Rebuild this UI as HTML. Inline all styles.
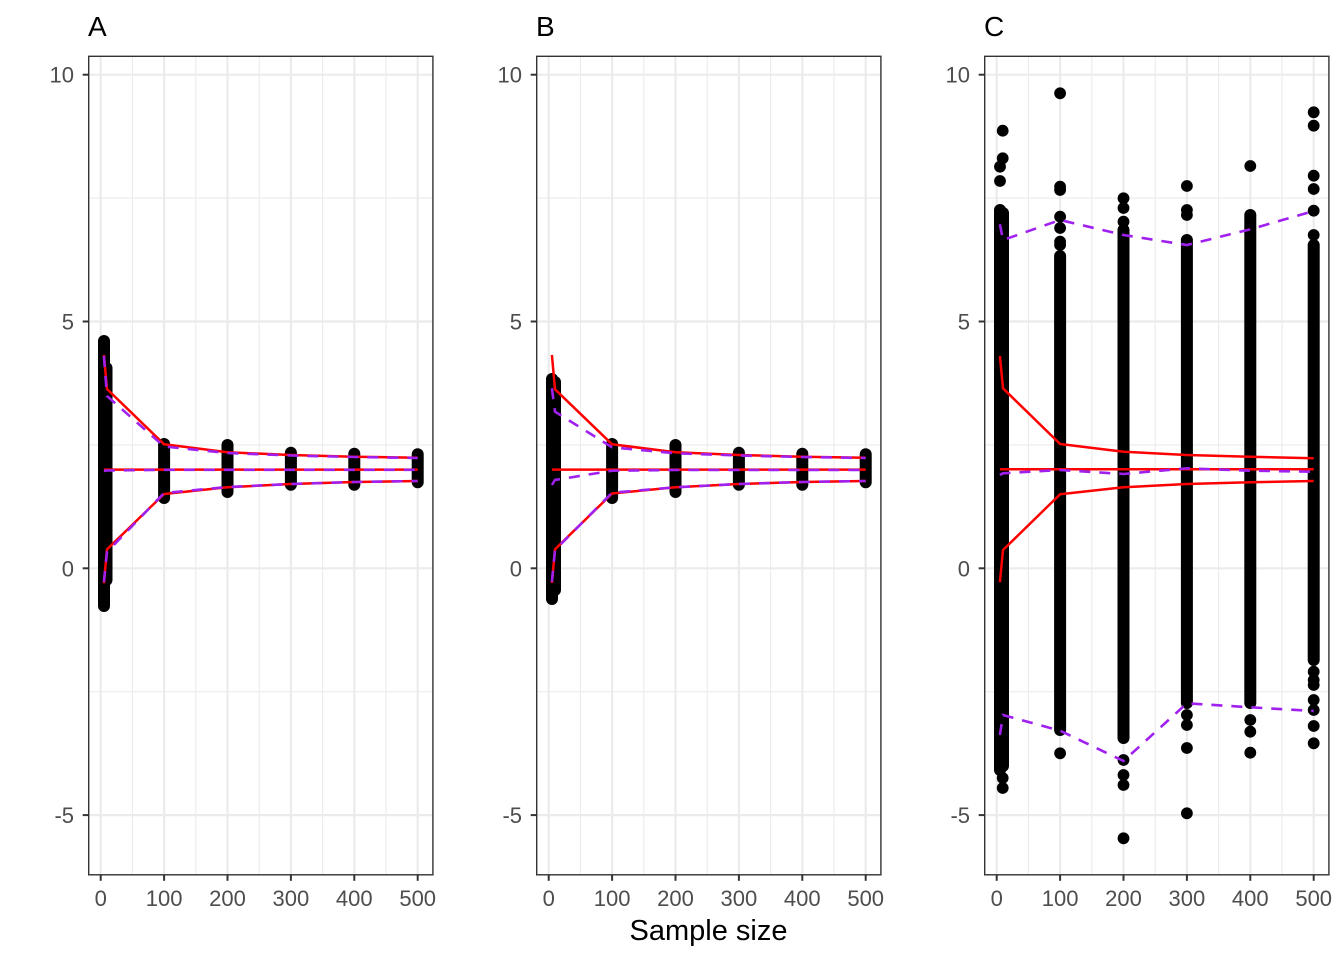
<!DOCTYPE html>
<html>
<head>
<meta charset="utf-8">
<style>
html,body{margin:0;padding:0;background:#fff;}
svg{display:block;}
text{font-family:"Liberation Sans",Arial,sans-serif;}
.tk{font-size:22px;fill:#4D4D4D;}
.ttl{font-size:28px;fill:#000;}
</style>
</head>
<body>
<svg width="1344" height="960" viewBox="0 0 1344 960" xmlns="http://www.w3.org/2000/svg">
<rect width="1344" height="960" fill="#fff"/>
<defs>
  <g id="grid">
    <g stroke="#EBEBEB" stroke-width="1.1">
      <line x1="0" x2="344.2" y1="141.8" y2="141.8"/>
      <line x1="0" x2="344.2" y1="388.6" y2="388.6"/>
      <line x1="0" x2="344.2" y1="635.4" y2="635.4"/>
      <line y1="0" y2="818.5" x1="43.7" x2="43.7"/>
      <line y1="0" y2="818.5" x1="107.1" x2="107.1"/>
      <line y1="0" y2="818.5" x1="170.5" x2="170.5"/>
      <line y1="0" y2="818.5" x1="233.9" x2="233.9"/>
      <line y1="0" y2="818.5" x1="297.3" x2="297.3"/>
    </g>
    <g stroke="#EBEBEB" stroke-width="2.2">
      <line x1="0" x2="344.2" y1="18.4" y2="18.4"/>
      <line x1="0" x2="344.2" y1="265.2" y2="265.2"/>
      <line x1="0" x2="344.2" y1="512" y2="512"/>
      <line x1="0" x2="344.2" y1="758.8" y2="758.8"/>
      <line y1="0" y2="818.5" x1="12" x2="12"/>
      <line y1="0" y2="818.5" x1="75.4" x2="75.4"/>
      <line y1="0" y2="818.5" x1="138.8" x2="138.8"/>
      <line y1="0" y2="818.5" x1="202.2" x2="202.2"/>
      <line y1="0" y2="818.5" x1="265.6" x2="265.6"/>
      <line y1="0" y2="818.5" x1="329" x2="329"/>
    </g>
  </g>
  <g id="axes">
    <rect x="0" y="0" width="344.2" height="818.5" fill="none" stroke="#333333" stroke-width="1.4"/>
    <g stroke="#333333" stroke-width="2">
      <line x1="-6" x2="0" y1="18.4" y2="18.4"/>
      <line x1="-6" x2="0" y1="265.2" y2="265.2"/>
      <line x1="-6" x2="0" y1="512" y2="512"/>
      <line x1="-6" x2="0" y1="758.8" y2="758.8"/>
      <line y1="818.5" y2="824.5" x1="12" x2="12"/>
      <line y1="818.5" y2="824.5" x1="75.4" x2="75.4"/>
      <line y1="818.5" y2="824.5" x1="138.8" x2="138.8"/>
      <line y1="818.5" y2="824.5" x1="202.2" x2="202.2"/>
      <line y1="818.5" y2="824.5" x1="265.6" x2="265.6"/>
      <line y1="818.5" y2="824.5" x1="329" x2="329"/>
    </g>
    <g class="tk" text-anchor="end">
      <text x="-14.7" y="26.4">10</text>
      <text x="-14.7" y="273.2">5</text>
      <text x="-14.7" y="520">0</text>
      <text x="-14.7" y="766.8">-5</text>
    </g>
    <g class="tk" text-anchor="middle">
      <text x="12" y="849.7">0</text>
      <text x="75.4" y="849.7">100</text>
      <text x="138.8" y="849.7">200</text>
      <text x="202.2" y="849.7">300</text>
      <text x="265.6" y="849.7">400</text>
      <text x="329" y="849.7">500</text>
    </g>
  </g>
</defs>

<g transform="translate(88.7,56.3)"><use href="#grid"/></g>
<g transform="translate(536.7,56.3)"><use href="#grid"/></g>
<g transform="translate(984.7,56.3)"><use href="#grid"/></g>

<!-- Panel A -->
<g stroke="#000" stroke-width="12" stroke-linecap="round" fill="none">
  <line x1="104" y1="341" x2="104" y2="606"/>
  <line x1="106.5" y1="368" x2="106.5" y2="580"/>
  <line x1="164.1" y1="444" x2="164.1" y2="498"/>
  <line x1="227.5" y1="445" x2="227.5" y2="492"/>
  <line x1="290.9" y1="452.7" x2="290.9" y2="484.7"/>
  <line x1="354.3" y1="453.7" x2="354.3" y2="484.7"/>
  <line x1="417.7" y1="454.3" x2="417.7" y2="482.3"/>
</g>
<g stroke="#FF0000" stroke-width="2.5" fill="none" stroke-linejoin="round">
  <polyline points="103.9,355 107,389 164.1,444.3 227.5,452.3 290.9,455 354.3,456.7 417.7,457.7"/>
  <polyline points="103.9,469.6 417.7,469.6"/>
  <polyline points="103.9,583.3 107,549.3 164.1,494 227.5,487.3 290.9,484 354.3,482 417.7,481"/>
</g>
<g stroke="#A020F0" stroke-width="2.6" fill="none" stroke-dasharray="11 9">
  <polyline points="103.9,356 107,396 164.1,446.5 227.5,453 290.9,455.5 354.3,457 417.7,458"/>
  <polyline points="103.9,471 107,470.5 164.1,469.8 417.7,469.8"/>
  <polyline points="103.9,582 107,552 164.1,493 227.5,487 290.9,484 354.3,482 417.7,481"/>
</g>

<!-- Panel B -->
<g stroke="#000" stroke-width="12" stroke-linecap="round" fill="none">
  <line x1="552" y1="379" x2="552" y2="599"/>
  <line x1="555" y1="382" x2="555" y2="590"/>
  <line x1="612.1" y1="444" x2="612.1" y2="498"/>
  <line x1="675.5" y1="445" x2="675.5" y2="492"/>
  <line x1="738.9" y1="452.7" x2="738.9" y2="484.7"/>
  <line x1="802.3" y1="453.7" x2="802.3" y2="484.7"/>
  <line x1="865.7" y1="454.3" x2="865.7" y2="482.3"/>
</g>
<g stroke="#FF0000" stroke-width="2.5" fill="none" stroke-linejoin="round">
  <polyline points="551.9,355 555,389.3 612.1,444.3 675.5,452.3 738.9,455 802.3,456.7 865.7,457.7"/>
  <polyline points="551.9,469.6 865.7,469.6"/>
  <polyline points="551.9,583 555,549.3 612.1,493.5 675.5,487.3 738.9,484 802.3,482 865.7,481"/>
</g>
<g stroke="#A020F0" stroke-width="2.6" fill="none" stroke-dasharray="11 9">
  <polyline points="551.9,388.3 555,411.7 612.1,447.3 675.5,453.3 738.9,455.5 802.3,457 865.7,458"/>
  <polyline points="551.9,485 555,480 612.1,470.7 675.5,470 865.7,470"/>
  <polyline points="551.9,581.7 555,550 612.1,492.7 675.5,487.3 738.9,484 802.3,482 865.7,481"/>
</g>

<!-- Panel C -->
<g stroke="#000" stroke-width="12" stroke-linecap="round" fill="none">
  <line x1="1000" y1="210" x2="1000" y2="770"/>
  <line x1="1003" y1="213" x2="1003" y2="766"/>
  <line x1="1060.1" y1="256" x2="1060.1" y2="730"/>
  <line x1="1123.5" y1="230" x2="1123.5" y2="738"/>
  <line x1="1186.9" y1="240" x2="1186.9" y2="703"/>
  <line x1="1250.3" y1="215" x2="1250.3" y2="703"/>
  <line x1="1313.7" y1="245" x2="1313.7" y2="660"/>
</g>
<g fill="#000">
  <circle cx="1002.7" cy="130.7" r="5.9"/>
  <circle cx="1002.7" cy="158.3" r="5.9"/>
  <circle cx="1000" cy="166.7" r="5.9"/>
  <circle cx="1000" cy="181" r="5.9"/>
  <circle cx="1002.7" cy="778" r="5.9"/>
  <circle cx="1002.7" cy="788" r="5.9"/>
  <circle cx="1060.1" cy="93.3" r="5.9"/>
  <circle cx="1060.1" cy="186.7" r="5.9"/>
  <circle cx="1060.1" cy="190" r="5.9"/>
  <circle cx="1060.1" cy="216.7" r="5.9"/>
  <circle cx="1060.1" cy="228" r="5.9"/>
  <circle cx="1060.1" cy="241.7" r="5.9"/>
  <circle cx="1060.1" cy="245" r="5.9"/>
  <circle cx="1060.1" cy="753.3" r="5.9"/>
  <circle cx="1123.5" cy="198.3" r="5.9"/>
  <circle cx="1123.5" cy="208" r="5.9"/>
  <circle cx="1123.5" cy="221.7" r="5.9"/>
  <circle cx="1123.5" cy="760" r="5.9"/>
  <circle cx="1123.5" cy="775" r="5.9"/>
  <circle cx="1123.5" cy="785" r="5.9"/>
  <circle cx="1123.5" cy="838.3" r="5.9"/>
  <circle cx="1186.9" cy="186" r="5.9"/>
  <circle cx="1186.9" cy="210" r="5.9"/>
  <circle cx="1186.9" cy="215" r="5.9"/>
  <circle cx="1186.9" cy="715" r="5.9"/>
  <circle cx="1186.9" cy="725" r="5.9"/>
  <circle cx="1186.9" cy="748" r="5.9"/>
  <circle cx="1186.9" cy="813.3" r="5.9"/>
  <circle cx="1250.3" cy="166" r="5.9"/>
  <circle cx="1250.3" cy="720" r="5.9"/>
  <circle cx="1250.3" cy="731.7" r="5.9"/>
  <circle cx="1250.3" cy="752.7" r="5.9"/>
  <circle cx="1313.7" cy="112.3" r="5.9"/>
  <circle cx="1313.7" cy="125.7" r="5.9"/>
  <circle cx="1313.7" cy="175.7" r="5.9"/>
  <circle cx="1313.7" cy="189" r="5.9"/>
  <circle cx="1313.7" cy="210.7" r="5.9"/>
  <circle cx="1313.7" cy="235" r="5.9"/>
  <circle cx="1313.7" cy="671.7" r="5.9"/>
  <circle cx="1313.7" cy="680" r="5.9"/>
  <circle cx="1313.7" cy="685" r="5.9"/>
  <circle cx="1313.7" cy="700" r="5.9"/>
  <circle cx="1313.7" cy="710" r="5.9"/>
  <circle cx="1313.7" cy="726" r="5.9"/>
  <circle cx="1313.7" cy="743.3" r="5.9"/>
</g>
<g stroke="#FF0000" stroke-width="2.5" fill="none" stroke-linejoin="round">
  <polyline points="999.9,356 1003,388.3 1060.1,444 1123.5,451.7 1186.9,455 1250.3,456.7 1313.7,458.3"/>
  <polyline points="999.9,469.3 1313.7,469.3"/>
  <polyline points="999.9,582.3 1003,550 1060.1,494.3 1123.5,487.3 1186.9,484 1250.3,482.3 1313.7,481"/>
</g>
<g stroke="#A020F0" stroke-width="2.6" fill="none" stroke-dasharray="11 9">
  <polyline points="999.9,224.3 1003,240 1060.1,220 1123.5,235 1186.9,245 1250.3,229.3 1313.7,211"/>
  <polyline points="999.9,475 1003,473.3 1060.1,470 1123.5,474 1186.9,468.3 1250.3,470.7 1313.7,471.7"/>
  <polyline points="999.9,735 1003,715 1060.1,730.7 1123.5,761 1186.9,703.3 1250.3,707.3 1313.7,711"/>
</g>

<g transform="translate(88.7,56.3)"><use href="#axes"/></g>
<g transform="translate(536.7,56.3)"><use href="#axes"/></g>
<g transform="translate(984.7,56.3)"><use href="#axes"/></g>

<text class="ttl" x="88" y="36">A</text>
<text class="ttl" x="536" y="36">B</text>
<text class="ttl" x="984" y="36">C</text>

<text class="ttl" style="font-size:29px" x="708.5" y="940" text-anchor="middle">Sample size</text>
</svg>
</body>
</html>
